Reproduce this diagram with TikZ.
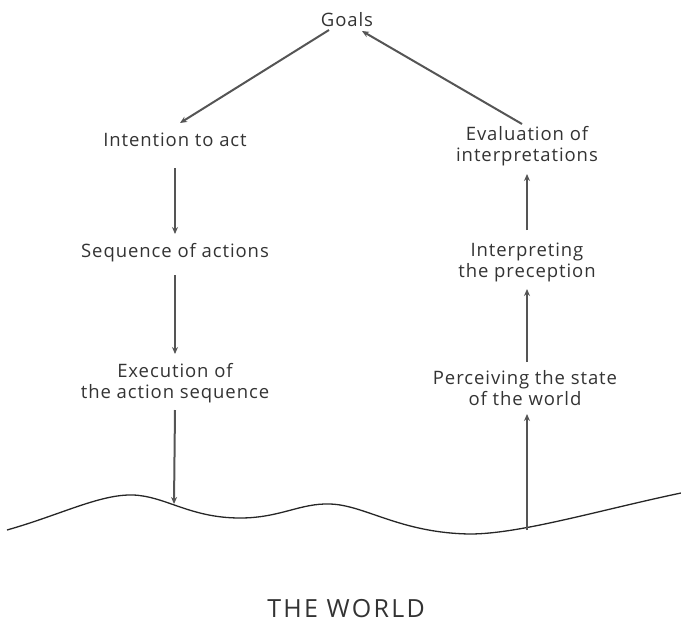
\documentclass[tikz,border=0pt]{standalone}
\usepackage{fontspec}
\setmainfont{Open Sans}
\newfontfamily\lblfont[LetterSpace=5]{Open Sans}
\newfontfamily\worldfont[LetterSpace=9]{Open Sans}
\usetikzlibrary{arrows.meta}
\definecolor{txt}{HTML}{333333}
\definecolor{ln}{HTML}{555555}
\begin{document}
\begin{tikzpicture}[x=1pt,y=-1pt,
  lbl/.style={text=txt,font=\lblfont\fontsize{18.5}{21}\selectfont,align=center,inner sep=0pt},
  arr/.style={draw=ln,line width=2pt,-{Stealth[length=7pt,width=6pt]}}]
\useasboundingbox (0,0) rectangle (681,625);
\node[lbl] (goals) at (347,20) {Goals};
\node[lbl] (int) at (175,140) {Intention to act};
\node[lbl] (seq) at (175,253) {Sequence of actions};
\node[lbl] (exe) at (175,383) {Execution of\\the action sequence};
\node[lbl] (eva) at (527,146) {Evaluation of\\interpretations};
\node[lbl] (itp) at (527,262) {Interpreting\\the preception};
\node[lbl] (per) at (525,388) {Perceiving the state\\of the world};
\node[text=txt,font=\worldfont\fontsize{25}{29}\selectfont,inner sep=0pt] (world) at (346,609) {THE WORLD};
% ground line
\draw[draw=black!85,line width=1.3pt] (7,530) .. controls (60,515) and (100,494) .. (133,495)
  .. controls (165,496) and (190,518) .. (240,518)
  .. controls (280,518) and (300,503) .. (330,504)
  .. controls (365,505) and (400,533) .. (470,534)
  .. controls (520,534) and (600,510) .. (681,493);
\coordinate (g1) at (329,30);
\coordinate (g2) at (362,31);
\coordinate (i1) at (180,123);
\coordinate (e1) at (522,124);
\coordinate (wl) at (174,504);
\coordinate (wr) at (527,530);
\draw[arr] (g1) -- (i1);
\draw[arr] (e1) -- (g2);
\draw[arr] (175,168) -- (175,234);
\draw[arr] (175,275) -- (175,354);
\draw[arr] (175,410) -- (wl);
\draw[arr] (wr) -- (527,414);
\draw[arr] (527,362) -- (527,289);
\draw[arr] (527,230) -- (527,174);
\end{tikzpicture}
\end{document}
